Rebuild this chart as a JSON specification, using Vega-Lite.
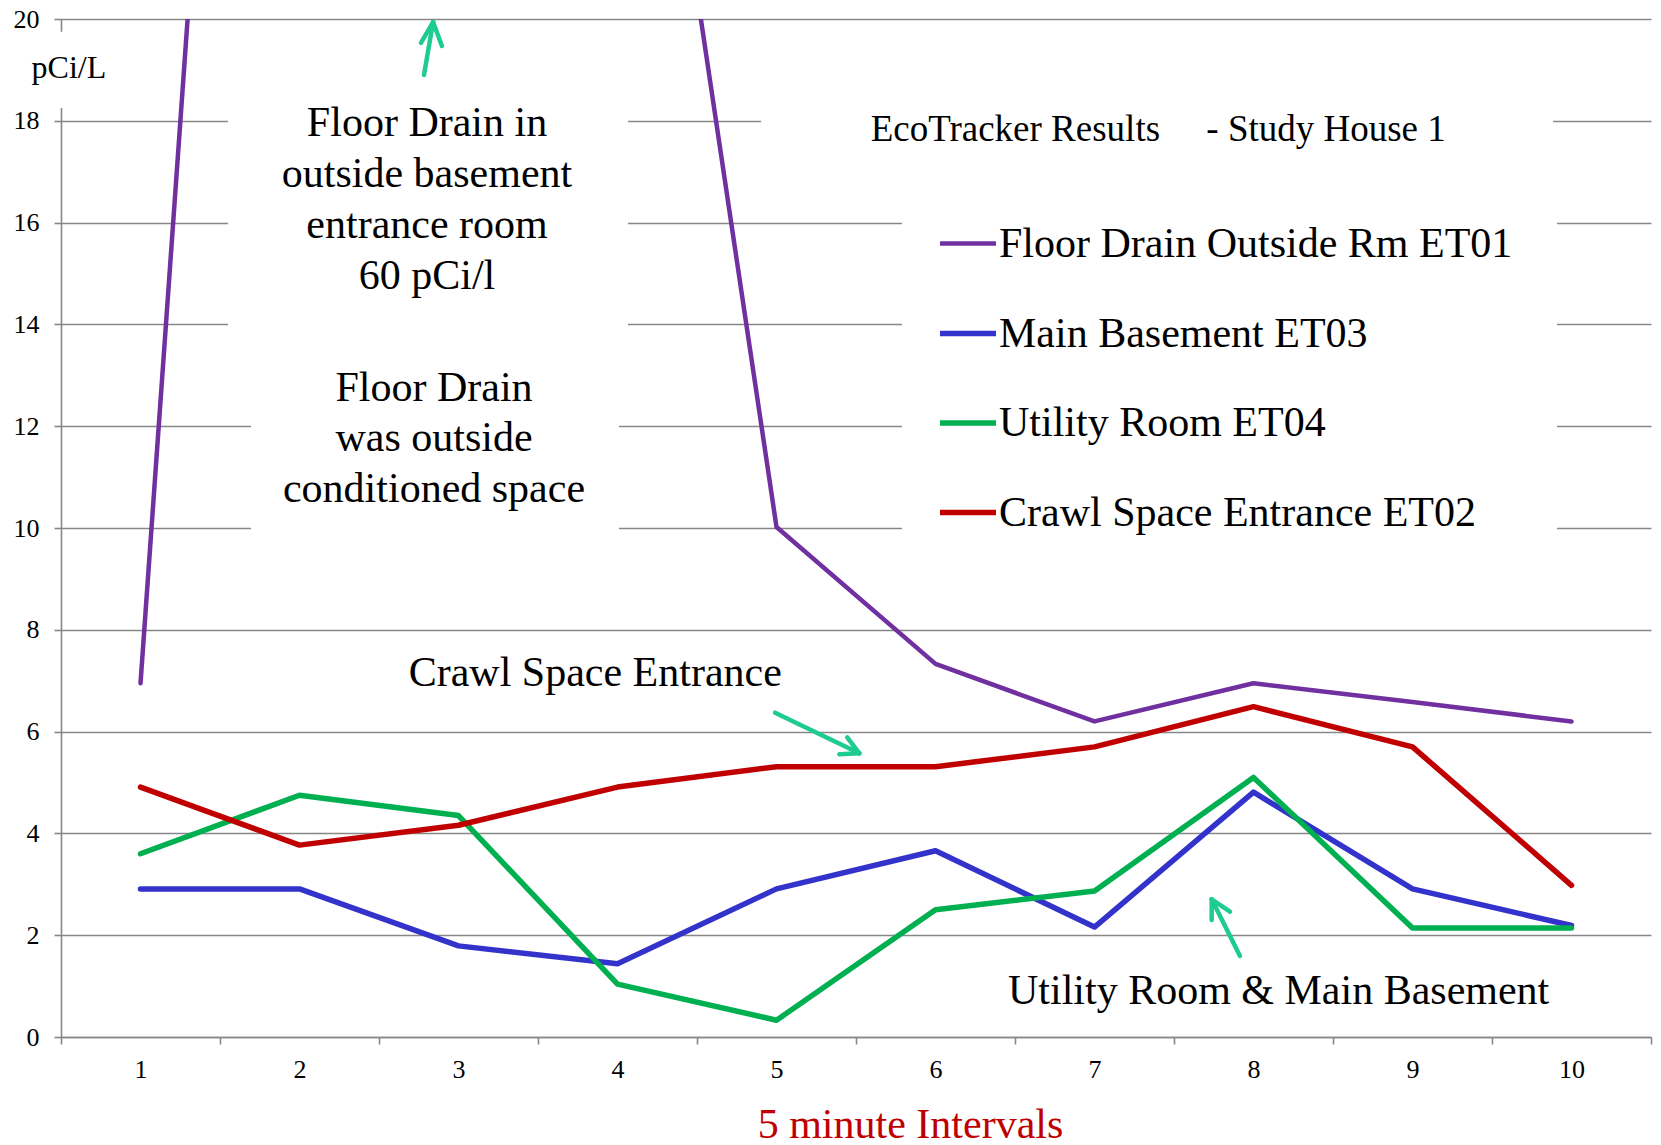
{
  "$schema": "https://vega.github.io/schema/vega-lite/v6.json",
  "width": 1590,
  "height": 1018,
  "autosize": {"type": "none"},
  "padding": {"left": 61, "top": 19, "right": 10, "bottom": 108},
  "background": "white",
  "config": {"font": "Liberation Serif", "view": {"stroke": null}},
  "encoding": {
    "x": {
      "field": "x", "type": "quantitative",
      "scale": {"domain": [0.5, 10.5], "nice": false, "zero": false},
      "axis": {
        "values": [0.5, 1.5, 2.5, 3.5, 4.5, 5.5, 6.5, 7.5, 8.5, 9.5, 10.5],
        "labelExpr": "datum.value < 10 ? format(datum.value + 0.5, 'd') : ''",
        "labelOffset": 79.5, "labelFlush": false, "labelOverlap": false, "labelBound": false,
        "labelFontSize": 26, "labelColor": "black", "labelFont": "Liberation Serif",
        "labelBaseline": "middle", "labelPadding": 25,
        "tickSize": 7, "tickColor": "#878787", "tickWidth": 1.6,
        "domainColor": "#878787", "domainWidth": 1.6, "grid": false,
        "title": "5 minute Intervals", "titleFont": "Liberation Serif", "titleFontSize": 42,
        "titleColor": "#C00000", "titleFontWeight": "normal",
        "titleX": 849, "titleY": 87, "titleBaseline": "middle", "titleAlign": "center", "titleAngle": 0,
        "zindex": 0
      }
    },
    "y": {
      "field": "y", "type": "quantitative",
      "scale": {"domain": [0, 20], "nice": false, "zero": true},
      "axis": {
        "values": [0, 2, 4, 6, 8, 10, 12, 14, 16, 18, 20],
        "grid": true, "gridColor": "#878787", "gridWidth": 1.6,
        "labelFontSize": 26, "labelColor": "black", "labelFont": "Liberation Serif", "labelPadding": 15,
        "tickSize": 7, "tickColor": "#878787", "tickWidth": 1.6,
        "domainColor": "#878787", "domainWidth": 1.6,
        "title": null, "zindex": 0
      }
    }
  },
  "layer": [
    {
      "data": {"values": [
        {"x": 1.55, "x2": 4.066, "y": 19.3, "y2": 13.3},
        {"x": 1.695, "x2": 4.009, "y": 13.0, "y2": 9.0},
        {"x": 4.903, "x2": 9.884, "y": 19.3, "y2": 17.2},
        {"x": 5.789, "x2": 9.909, "y": 17.0, "y2": 9.0},
        {"x": 0.44, "x2": 0.56, "y": 19.75, "y2": 18.25}
      ]},
      "mark": {"type": "rect", "fill": "white", "stroke": null},
      "encoding": {"x2": {"field": "x2"}, "y2": {"field": "y2"}}
    },
    {
      "data": {"values": [
        {"series": "Floor Drain Outside Rm ET01", "x": 1, "y": 6.95},
        {"series": "Floor Drain Outside Rm ET01", "x": 2, "y": 51},
        {"series": "Floor Drain Outside Rm ET01", "x": 3, "y": 60},
        {"series": "Floor Drain Outside Rm ET01", "x": 4, "y": 31},
        {"series": "Floor Drain Outside Rm ET01", "x": 5, "y": 10.02},
        {"series": "Floor Drain Outside Rm ET01", "x": 6, "y": 7.33},
        {"series": "Floor Drain Outside Rm ET01", "x": 7, "y": 6.2},
        {"series": "Floor Drain Outside Rm ET01", "x": 8, "y": 6.95},
        {"series": "Floor Drain Outside Rm ET01", "x": 9, "y": 6.58},
        {"series": "Floor Drain Outside Rm ET01", "x": 10, "y": 6.2},
        {"series": "Main Basement ET03", "x": 1, "y": 2.91},
        {"series": "Main Basement ET03", "x": 2, "y": 2.91},
        {"series": "Main Basement ET03", "x": 3, "y": 1.79},
        {"series": "Main Basement ET03", "x": 4, "y": 1.44},
        {"series": "Main Basement ET03", "x": 5, "y": 2.91},
        {"series": "Main Basement ET03", "x": 6, "y": 3.66},
        {"series": "Main Basement ET03", "x": 7, "y": 2.16},
        {"series": "Main Basement ET03", "x": 8, "y": 4.81},
        {"series": "Main Basement ET03", "x": 9, "y": 2.91},
        {"series": "Main Basement ET03", "x": 10, "y": 2.19},
        {"series": "Utility Room ET04", "x": 1, "y": 3.6},
        {"series": "Utility Room ET04", "x": 2, "y": 4.75},
        {"series": "Utility Room ET04", "x": 3, "y": 4.35},
        {"series": "Utility Room ET04", "x": 4, "y": 1.04},
        {"series": "Utility Room ET04", "x": 5, "y": 0.33},
        {"series": "Utility Room ET04", "x": 6, "y": 2.5},
        {"series": "Utility Room ET04", "x": 7, "y": 2.87},
        {"series": "Utility Room ET04", "x": 8, "y": 5.1},
        {"series": "Utility Room ET04", "x": 9, "y": 2.14},
        {"series": "Utility Room ET04", "x": 10, "y": 2.14},
        {"series": "Crawl Space Entrance ET02", "x": 1, "y": 4.91},
        {"series": "Crawl Space Entrance ET02", "x": 2, "y": 3.77},
        {"series": "Crawl Space Entrance ET02", "x": 3, "y": 4.16},
        {"series": "Crawl Space Entrance ET02", "x": 4, "y": 4.91},
        {"series": "Crawl Space Entrance ET02", "x": 5, "y": 5.31},
        {"series": "Crawl Space Entrance ET02", "x": 6, "y": 5.31},
        {"series": "Crawl Space Entrance ET02", "x": 7, "y": 5.7},
        {"series": "Crawl Space Entrance ET02", "x": 8, "y": 6.49},
        {"series": "Crawl Space Entrance ET02", "x": 9, "y": 5.7},
        {"series": "Crawl Space Entrance ET02", "x": 10, "y": 2.98}
      ]},
      "mark": {"type": "line", "clip": true, "strokeJoin": "round", "strokeCap": "round"},
      "encoding": {
        "color": {
          "field": "series", "type": "nominal",
          "scale": {
            "domain": ["Floor Drain Outside Rm ET01", "Main Basement ET03", "Utility Room ET04", "Crawl Space Entrance ET02"],
            "range": ["#7030A0", "#3333CC", "#00B050", "#C00000"]
          },
          "legend": {
            "orient": "none", "legendX": 876, "legendY": 194, "title": null,
            "symbolType": "stroke", "symbolSize": 3136, "symbolStrokeWidth": 5.5,
            "labelFontSize": 42, "labelFont": "Liberation Serif", "labelColor": "black",
            "labelLimit": 0, "labelOffset": 0, "rowPadding": 37.5, "padding": 0, "direction": "vertical"
          }
        },
        "strokeWidth": {
          "field": "series", "type": "nominal",
          "scale": {
            "type": "ordinal",
            "domain": ["Floor Drain Outside Rm ET01", "Main Basement ET03", "Utility Room ET04", "Crawl Space Entrance ET02"],
            "range": [4.5, 5.5, 5.5, 5.5]
          },
          "legend": null
        }
      }
    },
    {
      "data": {"values": [
        {"x": 2.783, "y": 18.9, "x2": 2.84, "y2": 19.94},
        {"x": 2.84, "y": 19.94, "x2": 2.764, "y2": 19.53},
        {"x": 2.84, "y": 19.94, "x2": 2.896, "y2": 19.47},
        {"x": 4.991, "y": 6.371, "x2": 5.521, "y2": 5.574},
        {"x": 5.521, "y": 5.574, "x2": 5.445, "y2": 5.888},
        {"x": 5.521, "y": 5.574, "x2": 5.395, "y2": 5.554},
        {"x": 7.915, "y": 1.591, "x2": 7.737, "y2": 2.705},
        {"x": 7.737, "y": 2.705, "x2": 7.737, "y2": 2.299},
        {"x": 7.737, "y": 2.705, "x2": 7.852, "y2": 2.462}
      ]},
      "mark": {"type": "rule", "color": "#1DCB93", "strokeWidth": 4.5, "strokeCap": "round"},
      "encoding": {"x2": {"field": "x2"}, "y2": {"field": "y2"}}
    },
    {
      "data": {"values": [
        {"t": "Floor Drain in", "x": 2.802, "y": 17.96},
        {"t": "outside basement", "x": 2.802, "y": 16.96},
        {"t": "entrance room", "x": 2.802, "y": 15.96},
        {"t": "60 pCi/l", "x": 2.802, "y": 14.96},
        {"t": "Floor Drain", "x": 2.846, "y": 12.76},
        {"t": "was outside", "x": 2.846, "y": 11.76},
        {"t": "conditioned space", "x": 2.846, "y": 10.76},
        {"t": "Crawl Space Entrance", "x": 3.86, "y": 7.16},
        {"t": "Utility Room & Main Basement", "x": 8.158, "y": 0.91}
      ]},
      "mark": {"type": "text", "font": "Liberation Serif", "fontSize": 42, "color": "black", "align": "center", "baseline": "middle"},
      "encoding": {"text": {"field": "t"}}
    },
    {
      "data": {"values": [
        {"t": "EcoTracker Results\u00a0\u00a0\u00a0\u00a0\u00a0-\u00a0Study House 1", "x": 5.592, "y": 17.81}
      ]},
      "mark": {"type": "text", "font": "Liberation Serif", "fontSize": 37, "color": "black", "align": "left", "baseline": "middle"},
      "encoding": {"text": {"field": "t"}}
    },
    {
      "data": {"values": [
        {"t": "pCi/L", "x": 0.55, "y": 19.04}
      ]},
      "mark": {"type": "text", "font": "Liberation Serif", "fontSize": 32, "color": "black", "align": "center", "baseline": "middle"},
      "encoding": {"text": {"field": "t"}}
    }
  ]
}
